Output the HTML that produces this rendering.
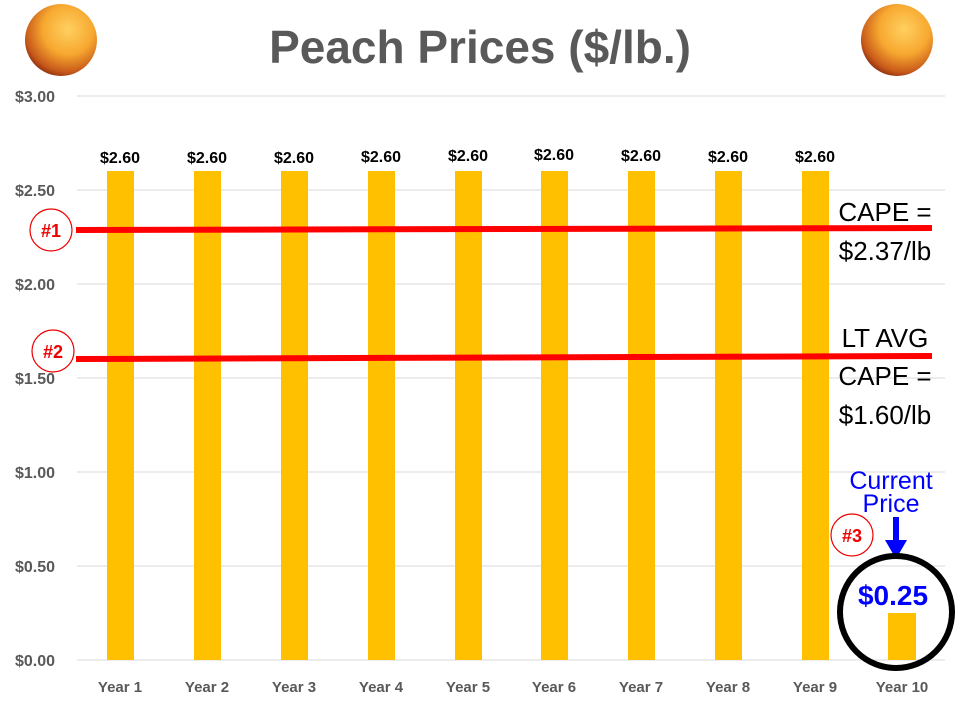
<!DOCTYPE html>
<html><head><meta charset="utf-8"><style>
body{margin:0;background:#fff;}
text{font-family:"Liberation Sans",sans-serif;}
</style></head><body>
<svg width="960" height="720" xmlns="http://www.w3.org/2000/svg">
<defs>
<radialGradient id="pg" cx="0.6" cy="0.35" r="0.7">
<stop offset="0" stop-color="#ffd060"/><stop offset="0.5" stop-color="#f7a830"/><stop offset="0.85" stop-color="#c85a1a"/><stop offset="1" stop-color="#8a2a10"/>
</radialGradient>
</defs>
<circle cx="61" cy="40" r="36" fill="url(#pg)"/>
<circle cx="897" cy="40" r="36" fill="url(#pg)"/>
<text x="480" y="63" font-size="46" font-weight="bold" fill="#595959" text-anchor="middle">Peach Prices ($/lb.)</text>
<g stroke="#d9d9d9" stroke-width="1">
<line x1="77" x2="945" y1="96" y2="96"/><line x1="77" x2="945" y1="190" y2="190"/><line x1="77" x2="945" y1="284" y2="284"/><line x1="77" x2="945" y1="378" y2="378"/><line x1="77" x2="945" y1="472" y2="472"/><line x1="77" x2="945" y1="566" y2="566"/><line x1="77" x2="945" y1="660" y2="660"/>
</g>
<g font-size="16" font-weight="bold" fill="#595959" text-anchor="end">
<text x="55" y="102">$3.00</text><text x="55" y="196">$2.50</text><text x="55" y="290">$2.00</text><text x="55" y="384">$1.50</text><text x="55" y="478">$1.00</text><text x="55" y="572">$0.50</text><text x="55" y="666">$0.00</text>
</g>
<g fill="#ffc000">
<rect x="107" y="171" width="27" height="489"/><rect x="194" y="171" width="27" height="489"/><rect x="281" y="171" width="27" height="489"/><rect x="368" y="171" width="27" height="489"/><rect x="455" y="171" width="27" height="489"/><rect x="541" y="171" width="27" height="489"/><rect x="628" y="171" width="27" height="489"/><rect x="715" y="171" width="27" height="489"/><rect x="802" y="171" width="27" height="489"/><rect x="888" y="613" width="28" height="47"/>
</g>
<g font-size="16" font-weight="bold" fill="#000" text-anchor="middle">
<text x="120" y="163">$2.60</text><text x="207" y="163">$2.60</text><text x="294" y="163">$2.60</text><text x="381" y="162">$2.60</text><text x="468" y="161">$2.60</text><text x="554" y="160">$2.60</text><text x="641" y="161">$2.60</text><text x="728" y="162">$2.60</text><text x="815" y="162">$2.60</text>
</g>
<g font-size="15" font-weight="bold" fill="#595959" text-anchor="middle">
<text x="120" y="692">Year 1</text><text x="207" y="692">Year 2</text><text x="294" y="692">Year 3</text><text x="381" y="692">Year 4</text><text x="468" y="692">Year 5</text><text x="554" y="692">Year 6</text><text x="641" y="692">Year 7</text><text x="728" y="692">Year 8</text><text x="815" y="692">Year 9</text><text x="902" y="692">Year 10</text>
</g>
<line x1="76" y1="230" x2="932" y2="228" stroke="#ff0000" stroke-width="6"/>
<line x1="76" y1="359" x2="932" y2="356" stroke="#ff0000" stroke-width="6"/>
<circle cx="51" cy="230" r="21" fill="#fff" stroke="#e00" stroke-width="1.2"/>
<text x="51" y="237" font-size="18" font-weight="bold" fill="#e00" text-anchor="middle">#1</text>
<circle cx="53" cy="351" r="21" fill="#fff" stroke="#e00" stroke-width="1.2"/>
<text x="53" y="358" font-size="18" font-weight="bold" fill="#e00" text-anchor="middle">#2</text>
<circle cx="852" cy="535" r="21" fill="#fff" stroke="#e00" stroke-width="1.2"/>
<text x="852" y="542" font-size="18" font-weight="bold" fill="#e00" text-anchor="middle">#3</text>
<g font-size="26" fill="#000" text-anchor="middle">
<text x="885" y="221">CAPE =</text><text x="885" y="260">$2.37/lb</text>
<text x="885" y="347">LT AVG</text><text x="885" y="385">CAPE =</text><text x="885" y="424">$1.60/lb</text>
</g>
<g font-size="25" fill="#0000ff" text-anchor="middle">
<text x="891" y="489">Current</text><text x="891" y="512">Price</text>
</g>
<line x1="896" y1="517" x2="896" y2="543" stroke="#0000ff" stroke-width="6"/>
<polygon points="885,540 907,540 896,559" fill="#0000ff"/>
<circle cx="896" cy="612" r="56" fill="none" stroke="#000" stroke-width="6"/>
<text x="893" y="605" font-size="28" font-weight="bold" fill="#0000ff" text-anchor="middle">$0.25</text>
</svg>
</body></html>
